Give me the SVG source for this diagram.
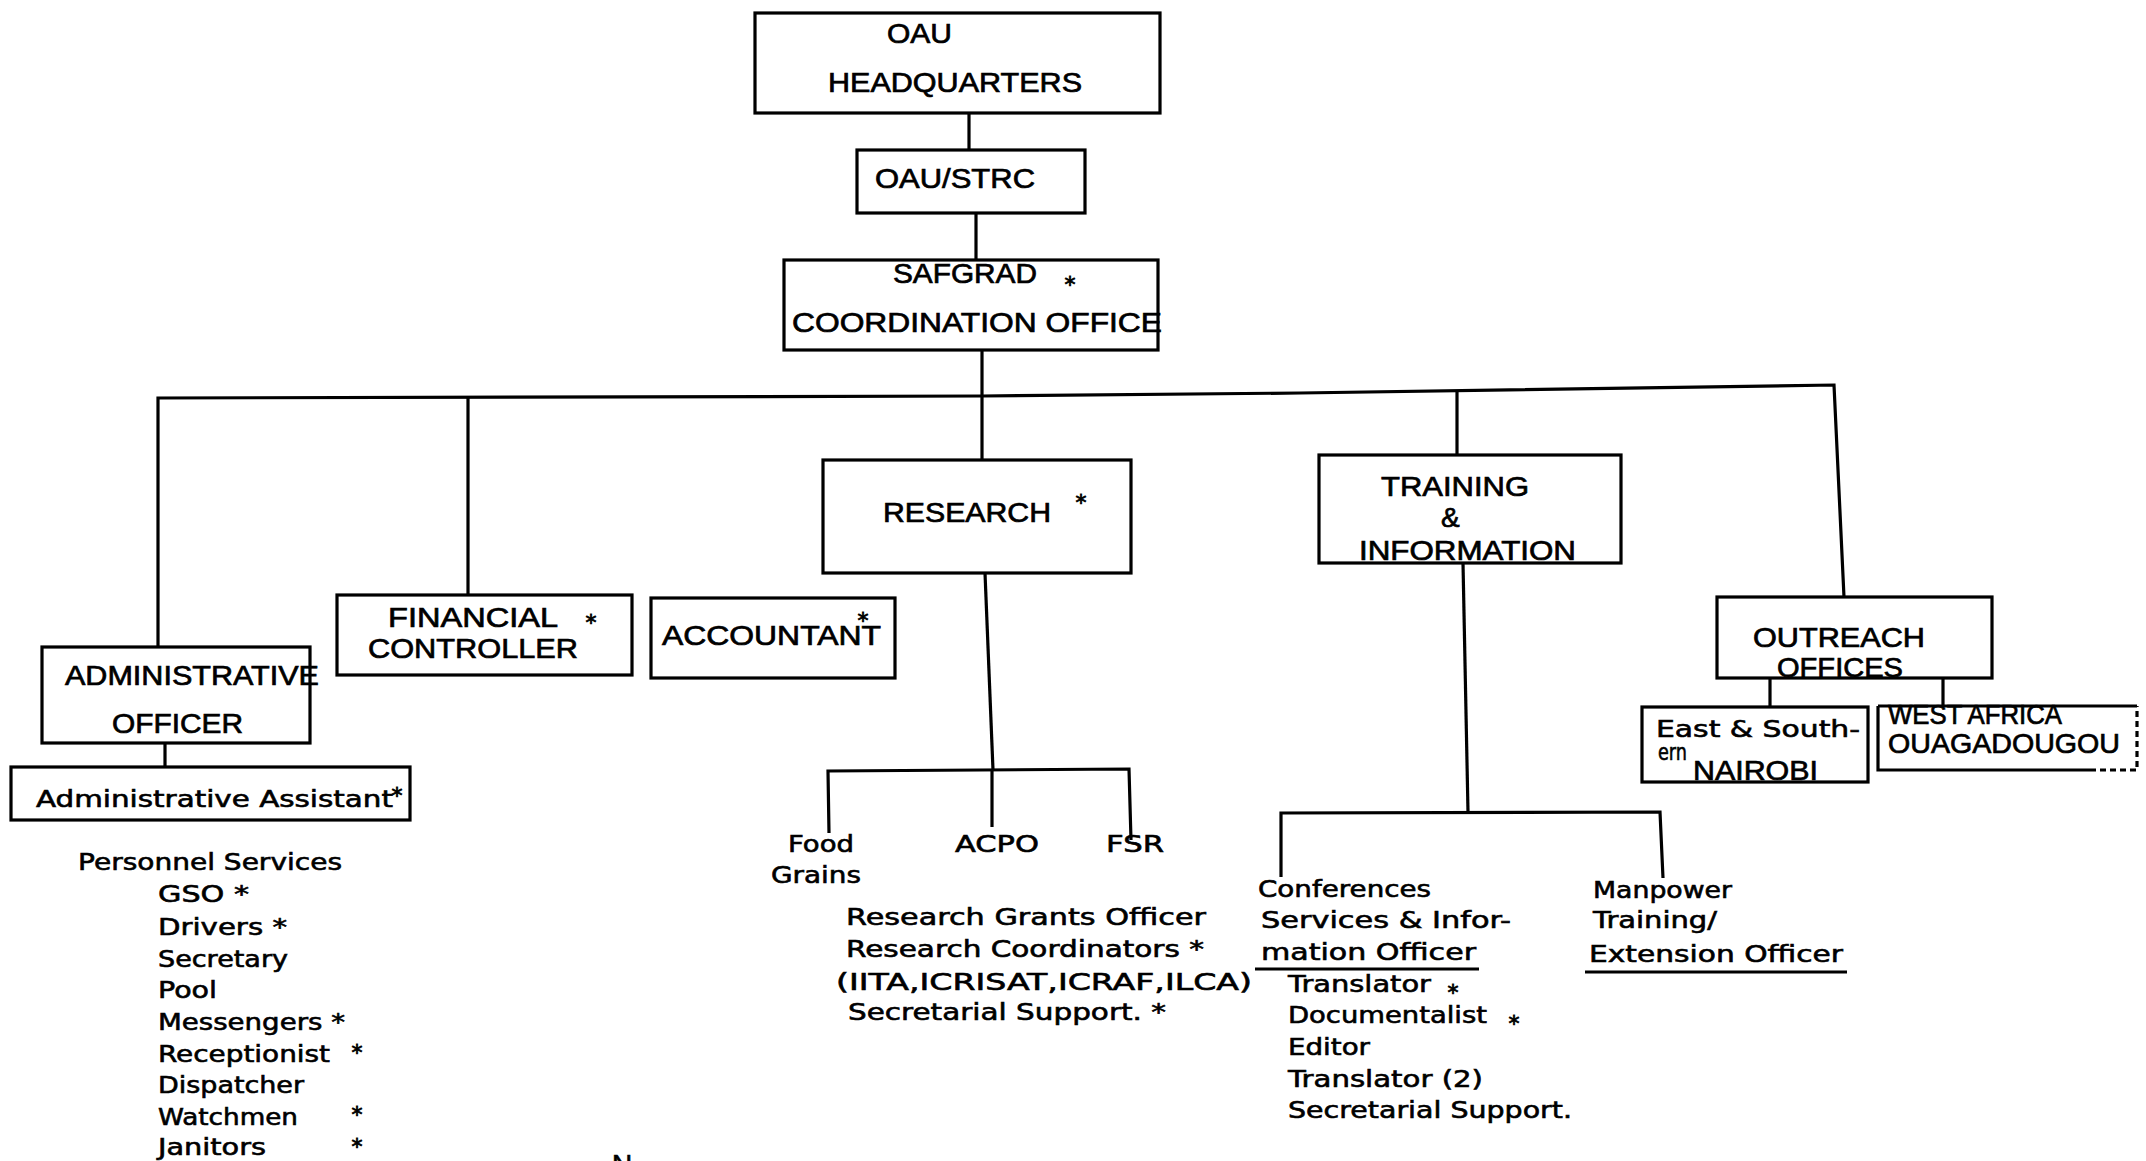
<svg xmlns="http://www.w3.org/2000/svg" width="2146" height="1161" viewBox="0 0 2146 1161">
<style>
.box{fill:#fff;stroke:#000;stroke-width:3.2}
.ln{fill:none;stroke:#000;stroke-width:3.2}
.cap{font-family:"Liberation Sans",Arial,sans-serif;font-size:28px;fill:#000;stroke:#000;stroke-width:0.7}
.lc{font-family:"DejaVu Sans","Liberation Sans",sans-serif;font-size:23px;fill:#000;stroke:#000;stroke-width:0.6}
.star{font-family:"DejaVu Sans","Liberation Sans",sans-serif;font-size:22px;fill:#000;stroke:#000;stroke-width:0.8;text-anchor:middle}
</style>
<rect width="2146" height="1161" fill="#fff"/>
<g id="connectors">
<polyline class="ln" points="969,113 969,150"/>
<polyline class="ln" points="976,213 976,260"/>
<polyline class="ln" points="982,350 982,460"/>
<polyline class="ln" points="158,647 158,398 982,396 1300,393 1834,385 1844,597"/>
<polyline class="ln" points="468,396 468,595"/>
<polyline class="ln" points="1457,390 1457,455"/>
<polyline class="ln" points="165,743 165,767"/>
<polyline class="ln" points="985,573 993,770"/>
<polyline class="ln" points="829,833 828,771 1129,769 1131,840"/>
<polyline class="ln" points="992,770 992,827"/>
<polyline class="ln" points="1463,563 1468,812"/>
<polyline class="ln" points="1281,877 1281,813 1660,812 1663,878"/>
<polyline class="ln" points="1770,678 1770,707"/>
<polyline class="ln" points="1943,678 1943,706"/>
</g>
<g id="hq">
<rect class="box" x="755" y="13" width="405" height="100"/>
<text class="cap" x="887" y="43" textLength="65" lengthAdjust="spacingAndGlyphs">OAU</text>
<text class="cap" x="828" y="92" textLength="254" lengthAdjust="spacingAndGlyphs">HEADQUARTERS</text>
</g>
<g id="strc">
<rect class="box" x="857" y="150" width="228" height="63"/>
<text class="cap" x="875" y="188" textLength="160" lengthAdjust="spacingAndGlyphs">OAU/STRC</text>
</g>
<g id="safgrad">
<rect class="box" x="784" y="260" width="374" height="90"/>
<text class="cap" x="893" y="283" textLength="144" lengthAdjust="spacingAndGlyphs">SAFGRAD</text>
<text class="star" x="1070" y="292">*</text>
<text class="cap" x="792" y="332" textLength="370" lengthAdjust="spacingAndGlyphs">COORDINATION OFFICE</text>
</g>
<g id="admin-officer">
<rect class="box" x="42" y="647" width="268" height="96"/>
<text class="cap" x="65" y="685" textLength="254" lengthAdjust="spacingAndGlyphs">ADMINISTRATIVE</text>
<text class="cap" x="112" y="733" textLength="131" lengthAdjust="spacingAndGlyphs">OFFICER</text>
</g>
<g id="admin-assistant">
<rect class="box" x="11" y="767" width="399" height="53"/>
<text class="lc" x="36" y="807" textLength="357" lengthAdjust="spacingAndGlyphs">Administrative Assistant</text>
<text class="star" x="397" y="803">*</text>
</g>
<g id="personnel">
<text class="lc" x="78" y="870" textLength="264" lengthAdjust="spacingAndGlyphs">Personnel Services</text>
<text class="lc" x="158" y="902" textLength="91" lengthAdjust="spacingAndGlyphs">GSO *</text>
<text class="lc" x="158" y="935" textLength="129" lengthAdjust="spacingAndGlyphs">Drivers *</text>
<text class="lc" x="158" y="967" textLength="130" lengthAdjust="spacingAndGlyphs">Secretary</text>
<text class="lc" x="158" y="998" textLength="59" lengthAdjust="spacingAndGlyphs">Pool</text>
<text class="lc" x="158" y="1030" textLength="187" lengthAdjust="spacingAndGlyphs">Messengers *</text>
<text class="lc" x="158" y="1062" textLength="172" lengthAdjust="spacingAndGlyphs">Receptionist</text>
<text class="star" x="357" y="1060">*</text>
<text class="lc" x="158" y="1093" textLength="146" lengthAdjust="spacingAndGlyphs">Dispatcher</text>
<text class="lc" x="158" y="1125" textLength="140" lengthAdjust="spacingAndGlyphs">Watchmen</text>
<text class="star" x="357" y="1122">*</text>
<text class="lc" x="158" y="1155" textLength="108" lengthAdjust="spacingAndGlyphs">Janitors</text>
<text class="star" x="357" y="1154">*</text>
</g>
<g id="financial">
<rect class="box" x="337" y="595" width="295" height="80"/>
<text class="cap" x="388" y="627" textLength="170" lengthAdjust="spacingAndGlyphs">FINANCIAL</text>
<text class="star" x="591" y="630">*</text>
<text class="cap" x="368" y="658" textLength="210" lengthAdjust="spacingAndGlyphs">CONTROLLER</text>
</g>
<g id="accountant">
<rect class="box" x="651" y="598" width="244" height="80"/>
<text class="cap" x="662" y="645" textLength="219" lengthAdjust="spacingAndGlyphs">ACCOUNTANT</text>
<text class="star" x="863" y="628">*</text>
</g>
<g id="research">
<rect class="box" x="823" y="460" width="308" height="113"/>
<text class="cap" x="883" y="522" textLength="168" lengthAdjust="spacingAndGlyphs">RESEARCH</text>
<text class="star" x="1081" y="510">*</text>
</g>
<g id="food-grains">
<text class="lc" x="788" y="852" textLength="66" lengthAdjust="spacingAndGlyphs">Food</text>
<text class="lc" x="771" y="883" textLength="90" lengthAdjust="spacingAndGlyphs">Grains</text>
</g>
<g id="acpo">
<text class="lc" x="955" y="852" textLength="84" lengthAdjust="spacingAndGlyphs">ACPO</text>
</g>
<g id="fsr">
<text class="lc" x="1106" y="852" textLength="58" lengthAdjust="spacingAndGlyphs">FSR</text>
</g>
<g id="research-staff">
<text class="lc" x="846" y="925" textLength="360" lengthAdjust="spacingAndGlyphs">Research Grants Officer</text>
<text class="lc" x="846" y="957" textLength="358" lengthAdjust="spacingAndGlyphs">Research Coordinators *</text>
<text class="lc" x="836" y="990" textLength="416" lengthAdjust="spacingAndGlyphs">(IITA,ICRISAT,ICRAF,ILCA)</text>
<text class="lc" x="848" y="1020" textLength="318" lengthAdjust="spacingAndGlyphs">Secretarial Support. *</text>
</g>
<g id="training">
<rect class="box" x="1319" y="455" width="302" height="108"/>
<text class="cap" x="1381" y="496" textLength="148" lengthAdjust="spacingAndGlyphs">TRAINING</text>
<text class="cap" x="1441" y="527">&amp;</text>
<text class="cap" x="1359" y="560" textLength="217" lengthAdjust="spacingAndGlyphs">INFORMATION</text>
</g>
<g id="conferences">
<text class="lc" x="1258" y="897" textLength="173" lengthAdjust="spacingAndGlyphs">Conferences</text>
<text class="lc" x="1261" y="928" textLength="250" lengthAdjust="spacingAndGlyphs">Services &amp; Infor-</text>
<text class="lc" x="1261" y="960" textLength="215" lengthAdjust="spacingAndGlyphs">mation Officer</text>
<line class="ln" x1="1255" y1="969" x2="1479" y2="969" stroke-width="2.5"/>
<text class="lc" x="1288" y="992" textLength="143" lengthAdjust="spacingAndGlyphs">Translator</text>
<text class="star" x="1453" y="1000">*</text>
<text class="lc" x="1288" y="1023" textLength="199" lengthAdjust="spacingAndGlyphs">Documentalist</text>
<text class="star" x="1514" y="1031">*</text>
<text class="lc" x="1288" y="1055" textLength="82" lengthAdjust="spacingAndGlyphs">Editor</text>
<text class="lc" x="1288" y="1087" textLength="195" lengthAdjust="spacingAndGlyphs">Translator (2)</text>
<text class="lc" x="1288" y="1118" textLength="284" lengthAdjust="spacingAndGlyphs">Secretarial Support.</text>
</g>
<g id="manpower">
<text class="lc" x="1593" y="898" textLength="139" lengthAdjust="spacingAndGlyphs">Manpower</text>
<text class="lc" x="1593" y="928" textLength="124" lengthAdjust="spacingAndGlyphs">Training/</text>
<text class="lc" x="1589" y="962" textLength="254" lengthAdjust="spacingAndGlyphs">Extension Officer</text>
<line class="ln" x1="1585" y1="972" x2="1847" y2="972" stroke-width="2.5"/>
</g>
<g id="outreach">
<rect class="box" x="1717" y="597" width="275" height="81"/>
<text class="cap" x="1753" y="647" textLength="172" lengthAdjust="spacingAndGlyphs">OUTREACH</text>
<text class="cap" x="1777" y="677" textLength="126" lengthAdjust="spacingAndGlyphs">OFFICES</text>
</g>
<g id="east-southern">
<rect class="box" x="1642" y="707" width="226" height="75"/>
<text class="lc" x="1656" y="737" font-size="21" textLength="204" lengthAdjust="spacingAndGlyphs">East &amp; South-</text>
<text class="lc" x="1658" y="760" font-size="16" textLength="29" lengthAdjust="spacingAndGlyphs">ern</text>
<text class="cap" x="1693" y="780" font-size="24" textLength="125" lengthAdjust="spacingAndGlyphs">NAIROBI</text>
</g>
<g id="west-africa">
<path class="ln" d="M1878,706 L2137,706 M1878,706 L1878,770 L2090,770" stroke-width="2.6"/>
<path class="ln" d="M2090,770 L2137,770 L2137,706" stroke-width="1.6" stroke-dasharray="6,4"/>
<text class="cap" x="1888" y="724" font-size="24" textLength="174" lengthAdjust="spacingAndGlyphs">WEST AFRICA</text>
<text class="cap" x="1888" y="753" font-size="25" textLength="232" lengthAdjust="spacingAndGlyphs">OUAGADOUGOU</text>
</g>
<text class="cap" x="612" y="1174" font-size="30">N</text>
</svg>
